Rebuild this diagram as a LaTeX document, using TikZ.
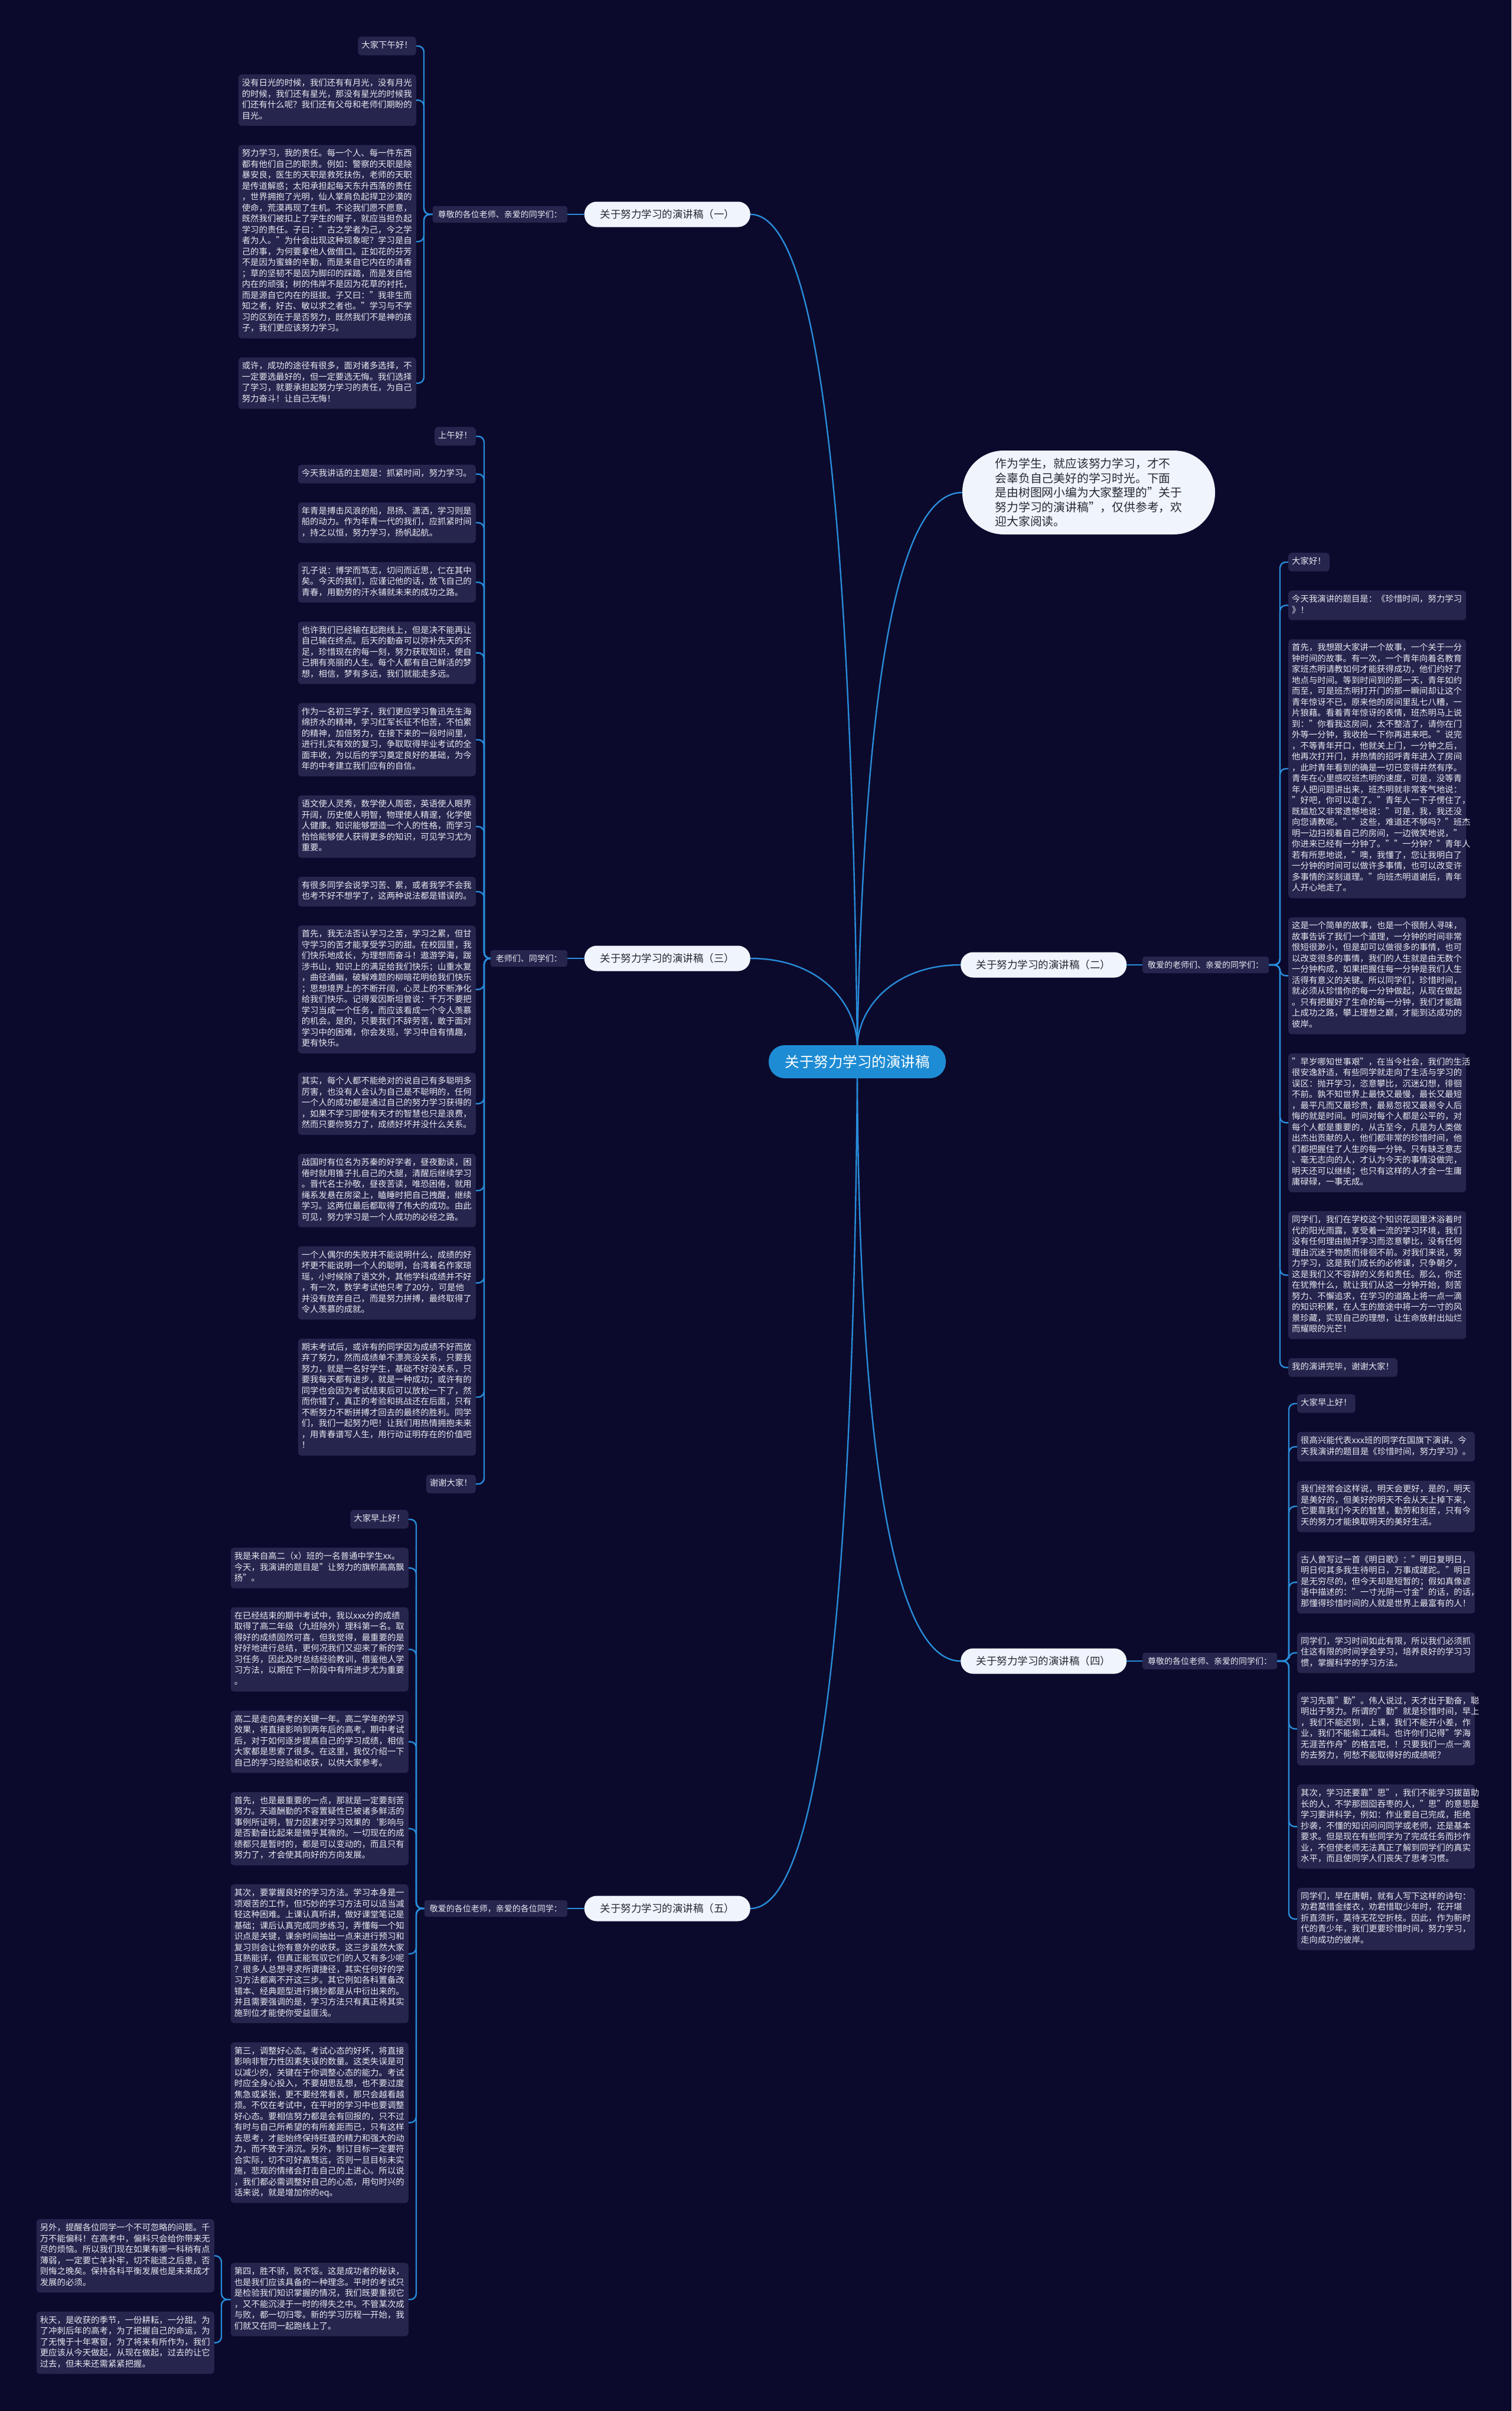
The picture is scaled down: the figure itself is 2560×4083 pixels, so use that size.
\documentclass[tikz,border=0pt]{standalone}
\usepackage{fontspec}
\setmainfont{Noto Sans CJK SC}
\definecolor{bgc}{RGB}{12,10,44}
\definecolor{leaffill}{RGB}{38,37,78}
\definecolor{leaftext}{RGB}{232,232,240}
\definecolor{linec}{RGB}{40,140,218}
\definecolor{brfill}{RGB}{240,244,252}
\definecolor{brtext}{RGB}{40,40,50}
\definecolor{ctrfill}{RGB}{30,140,212}
\begin{document}
\begin{tikzpicture}[x=1pt,y=-1pt,
 leaf/.style={fill=leaffill,text=leaftext,rounded corners=6pt,inner xsep=6pt,inner ysep=6.5pt,font=\fontsize{14.4}{18.5}\selectfont,text width=289pt,align=left,execute at begin node=\strut,execute at end node=\strut},
 leafs/.style={fill=leaffill,text=leaftext,rounded corners=6pt,inner xsep=6pt,inner ysep=6.5pt,font=\fontsize{14.4}{18.5}\selectfont,execute at begin node=\strut,execute at end node=\strut},
 lab/.style={fill=leaffill,text=leaftext,rounded corners=4pt,inner xsep=9pt,inner ysep=0pt,minimum height=28pt,font=\fontsize{14}{14}\selectfont},
 br/.style={fill=brfill,text=brtext,rounded corners=21pt,minimum width=281pt,minimum height=43pt,inner sep=0pt,font=\fontsize{17.5}{17.5}\selectfont},
 ctr/.style={fill=ctrfill,text=white,rounded corners=27pt,minimum width=300pt,minimum height=56pt,inner sep=0pt,font=\fontsize{24.5}{24.5}\selectfont},
 intro/.style={fill=brfill,text=brtext,rounded corners=70pt,minimum width=428pt,minimum height=142pt,align=left,font=\fontsize{19.8}{24.5}\selectfont},
 conn/.style={draw=linec,line width=2.4pt},
 brk/.style={draw=linec,line width=2.4pt,rounded corners=10pt}
]
\fill[bgc] (0,0) rectangle (2560,4083);
\useasboundingbox (0,0) rectangle (2560,4083);

% centre, intro, branches
\node[ctr] (ctr) at (1452,1798) {关于努力学习的演讲稿};
\node[intro] (intro) at (1844,834) {作为学生，就应该努力学习，才不\\会辜负自己美好的学习时光。下面\\是由树图网小编为大家整理的"关于\\努力学习的演讲稿"，仅供参考，欢\\迎大家阅读。};
\node[br,anchor=east] (br1) at (1271,363) {关于努力学习的演讲稿（一）};
\node[br,anchor=east] (br3) at (1271,1623) {关于努力学习的演讲稿（三）};
\node[br,anchor=east] (br5) at (1271,3232) {关于努力学习的演讲稿（五）};
\node[br,anchor=west] (br2) at (1627,1634) {关于努力学习的演讲稿（二）};
\node[br,anchor=west] (br4) at (1627,2813) {关于努力学习的演讲稿（四）};

\node[lab,anchor=east] (l1) at (961,363) {尊敬的各位老师、亲爱的同学们：};
\node[lab,anchor=east] (l3) at (961,1623) {老师们、同学们：};
\node[lab,anchor=east] (l5) at (961,3232) {敬爱的各位老师，亲爱的各位同学：};
\node[lab,anchor=west] (l2) at (1935,1634) {敬爱的老师们、亲爱的同学们：};
\node[lab,anchor=west] (l4) at (1935,2813) {尊敬的各位老师、亲爱的同学们：};

% ---------- branch 1 ----------
\node[leafs,anchor=north east] (b1a) at (705,62) {大家下午好！};
\node[leaf,anchor=north east] (b1b) at ([yshift=-32pt]b1a.south east) {没有日光的时候，我们还有有月光，没有月光\\的时候，我们还有星光，那没有星光的时候我\\们还有什么呢？我们还有父母和老师们期盼的\\目光。};
\node[leaf,anchor=north east] (b1c) at ([yshift=-32pt]b1b.south east) {努力学习，我的责任。每一个人、每一件东西\\都有他们自己的职责。例如：警察的天职是除\\暴安良，医生的天职是救死扶伤，老师的天职\\是传道解惑；太阳承担起每天东升西落的责任\\，世界拥抱了光明，仙人掌肩负起捍卫沙漠的\\使命，荒漠再现了生机。不论我们愿不愿意，\\既然我们被扣上了学生的帽子，就应当担负起\\学习的责任。子曰："古之学者为己，今之学\\者为人。"为什会出现这种现象呢？学习是自\\己的事，为何要拿他人做借口。正如花的芬芳\\不是因为蜜蜂的辛勤，而是来自它内在的清香\\；草的坚韧不是因为脚印的踩踏，而是发自他\\内在的顽强；树的伟岸不是因为花草的衬托，\\而是源自它内在的挺拔。子又曰："我非生而\\知之者，好古、敏以求之者也。"学习与不学\\习的区别在于是否努力，既然我们不是神的孩\\子，我们更应该努力学习。};
\node[leaf,anchor=north east] (b1d) at ([yshift=-32pt]b1c.south east) {或许，成功的途径有很多，面对诸多选择，不\\一定要选最好的，但一定要选无悔。我们选择\\了学习，就要承担起努力学习的责任，为自己\\努力奋斗！让自己无悔！};

% ---------- branch 3 ----------
\node[leafs,anchor=north east] (b3a) at (806,723) {上午好！};
\node[leaf,anchor=north east] (b3b) at ([yshift=-32pt]b3a.south east) {今天我讲话的主题是：抓紧时间，努力学习。};
\node[leaf,anchor=north east] (b3c) at ([yshift=-32pt]b3b.south east) {年青是搏击风浪的船，昂扬、潇洒，学习则是\\船的动力。作为年青一代的我们，应抓紧时间\\，持之以恒，努力学习，扬帆起航。};
\node[leaf,anchor=north east] (b3d) at ([yshift=-32pt]b3c.south east) {孔子说：博学而笃志，切问而近思，仁在其中\\矣。今天的我们，应谨记他的话，放飞自己的\\青春，用勤劳的汗水铺就未来的成功之路。};
\node[leaf,anchor=north east] (b3e) at ([yshift=-32pt]b3d.south east) {也许我们已经输在起跑线上，但是决不能再让\\自己输在终点。后天的勤奋可以弥补先天的不\\足，珍惜现在的每一刻，努力获取知识，使自\\己拥有亮丽的人生。每个人都有自己鲜活的梦\\想，相信，梦有多远，我们就能走多远。};
\node[leaf,anchor=north east] (b3f) at ([yshift=-32pt]b3e.south east) {作为一名初三学子，我们更应学习鲁迅先生海\\绵挤水的精神，学习红军长征不怕苦，不怕累\\的精神，加倍努力，在接下来的一段时间里，\\进行扎实有效的复习，争取取得毕业考试的全\\面丰收，为以后的学习奠定良好的基础，为今\\年的中考建立我们应有的自信。};
\node[leaf,anchor=north east] (b3g) at ([yshift=-32pt]b3f.south east) {语文使人灵秀，数学使人周密，英语使人眼界\\开阔，历史使人明智，物理使人精邃，化学使\\人健康。知识能够塑造一个人的性格，而学习\\恰恰能够使人获得更多的知识，可见学习尤为\\重要。};
\node[leaf,anchor=north east] (b3h) at ([yshift=-32pt]b3g.south east) {有很多同学会说学习苦、累，或者我学不会我\\也考不好不想学了，这两种说法都是错误的。};
\node[leaf,anchor=north east] (b3i) at ([yshift=-32pt]b3h.south east) {首先，我无法否认学习之苦，学习之累，但甘\\守学习的苦才能享受学习的甜。在校园里，我\\们快乐地成长，为理想而奋斗！遨游学海，跋\\涉书山，知识上的满足给我们快乐；山重水复\\，曲径通幽，破解难题的柳暗花明给我们快乐\\；思想境界上的不断开阔，心灵上的不断净化\\给我们快乐。记得爱因斯坦曾说：千万不要把\\学习当成一个任务，而应该看成一个令人羡慕\\的机会。是的，只要我们不辞劳苦，敢于面对\\学习中的困难，你会发现，学习中自有情趣，\\更有快乐。};
\node[leaf,anchor=north east] (b3j) at ([yshift=-32pt]b3i.south east) {其实，每个人都不能绝对的说自己有多聪明多\\厉害，也没有人会认为自己是不聪明的，任何\\一个人的成功都是通过自己的努力学习获得的\\，如果不学习即使有天才的智慧也只是浪费，\\然而只要你努力了，成绩好坏并没什么关系。};
\node[leaf,anchor=north east] (b3k) at ([yshift=-32pt]b3j.south east) {战国时有位名为苏秦的好学者，昼夜勤读，困\\倦时就用锥子扎自己的大腿，清醒后继续学习\\。晋代名士孙敬，昼夜苦读，唯恐困倦，就用\\绳系发悬在房梁上，瞌睡时把自己拽醒，继续\\学习。这两位最后都取得了伟大的成功。由此\\可见，努力学习是一个人成功的必经之路。};
\node[leaf,anchor=north east] (b3l) at ([yshift=-32pt]b3k.south east) {一个人偶尔的失败并不能说明什么，成绩的好\\坏更不能说明一个人的聪明，台湾着名作家琼\\瑶，小时候除了语文外，其他学科成绩并不好\\，有一次，数学考试他只考了20分，可是他\\并没有放弃自己，而是努力拼搏，最终取得了\\令人羡慕的成就。};
\node[leaf,anchor=north east] (b3m) at ([yshift=-32pt]b3l.south east) {期末考试后，或许有的同学因为成绩不好而放\\弃了努力，然而成绩单不漂亮没关系，只要我\\努力，就是一名好学生，基础不好没关系，只\\要我每天都有进步，就是一种成功；或许有的\\同学也会因为考试结束后可以放松一下了，然\\而你错了，真正的考验和挑战还在后面，只有\\不断努力不断拼搏才回去的最终的胜利。同学\\们，我们一起努力吧！让我们用热情拥抱未来\\，用青春谱写人生，用行动证明存在的价值吧\\！};
\node[leafs,anchor=north east] (b3n) at ([yshift=-32pt]b3m.south east) {谢谢大家！};

% ---------- branch 5 ----------
\node[leafs,anchor=north east] (b5a) at (692,2557) {大家早上好！};
\node[leaf,anchor=north east] (b5b) at ([yshift=-32pt]b5a.south east) {我是来自高二（x）班的一名普通中学生xx。\\今天，我演讲的题目是"让努力的旗帜高高飘\\扬"。};
\node[leaf,anchor=north east] (b5c) at ([yshift=-32pt]b5b.south east) {在已经结束的期中考试中，我以xxx分的成绩\\取得了高二年级（九班除外）理科第一名。取\\得好的成绩固然可喜，但我觉得，最重要的是\\好好地进行总结，更何况我们又迎来了新的学\\习任务，因此及时总结经验教训，借鉴他人学\\习方法，以期在下一阶段中有所进步尤为重要\\。};
\node[leaf,anchor=north east] (b5d) at ([yshift=-32pt]b5c.south east) {高二是走向高考的关键一年。高二学年的学习\\效果，将直接影响到两年后的高考。期中考试\\后，对于如何逐步提高自己的学习成绩，相信\\大家都是思索了很多。在这里，我仅介绍一下\\自己的学习经验和收获，以供大家参考。};
\node[leaf,anchor=north east] (b5e) at ([yshift=-32pt]b5d.south east) {首先，也是最重要的一点，那就是一定要刻苦\\努力。天道酬勤的不容置疑性已被诸多鲜活的\\事例所证明，智力因素对学习效果的`影响与\\是否勤奋比起来是微乎其微的。一切现在的成\\绩都只是暂时的，都是可以变动的，而且只有\\努力了，才会使其向好的方向发展。};
\node[leaf,anchor=north east] (b5f) at ([yshift=-32pt]b5e.south east) {其次，要掌握良好的学习方法。学习本身是一\\项艰苦的工作，但巧妙的学习方法可以适当减\\轻这种困难。上课认真听讲，做好课堂笔记是\\基础；课后认真完成同步练习，弄懂每一个知\\识点是关键，课余时间抽出一点来进行预习和\\复习则会让你有意外的收获。这三步虽然大家\\耳熟能详，但真正能驾驭它们的人又有多少呢\\？很多人总想寻求所谓捷径，其实任何好的学\\习方法都离不开这三步。其它例如各科置备改\\错本、经典题型进行摘抄都是从中衍出来的。\\并且需要强调的是，学习方法只有真正将其实\\施到位才能使你受益匪浅。};
\node[leaf,anchor=north east] (b5g) at ([yshift=-32pt]b5f.south east) {第三，调整好心态。考试心态的好坏，将直接\\影响非智力性因素失误的数量。这类失误是可\\以减少的，关键在于你调整心态的能力。考试\\时应全身心投入，不要胡思乱想，也不要过度\\焦急或紧张，更不要经常看表，那只会越看越\\烦。不仅在考试中，在平时的学习中也要调整\\好心态。要相信努力都是会有回报的，只不过\\有时与自己所希望的有所差距而已，只有这样\\去思考，才能始终保持旺盛的精力和强大的动\\力，而不致于消沉。另外，制订目标一定要符\\合实际，切不可好高骛远，否则一旦目标未实\\施，悲观的情绪会打击自己的上进心。所以说\\，我们都必需调整好自己的心态，用句时兴的\\话来说，就是增加你的eq。};
\node[leaf,anchor=north east] (b5h) at (692,3832) {第四，胜不骄，败不馁。这是成功者的秘诀，\\也是我们应该具备的一种理念。平时的考试只\\是检验我们知识掌握的情况，我们既要重视它\\，又不能沉浸于一时的得失之中。不管某次成\\与败，都一切归零。新的学习历程一开始，我\\们就又在同一起跑线上了。};
\node[leaf,anchor=north east] (b5i) at (363,3758) {另外，提醒各位同学一个不可忽略的问题。千\\万不能偏科！在高考中，偏科只会给你带来无\\尽的烦恼。所以我们现在如果有哪一科稍有点\\薄弱，一定要亡羊补牢，切不能遗之后患，否\\则悔之晚矣。保持各科平衡发展也是未来成才\\发展的必须。};
\node[leaf,anchor=north east] (b5j) at ([yshift=-32pt]b5i.south east) {秋天，是收获的季节，一份耕耘，一分甜。为\\了冲刺后年的高考，为了把握自己的命运，为\\了无愧于十年寒窗，为了将来有所作为，我们\\更应该从今天做起，从现在做起，过去的让它\\过去，但未来还需紧紧把握。};

% ---------- branch 2 ----------
\node[leafs,anchor=north west] (b2a) at (2182,936) {大家好！};
\node[leaf,anchor=north west] (b2b) at ([yshift=-32pt]b2a.south west) {今天我演讲的题目是：《珍惜时间，努力学习\\》！};
\node[leaf,anchor=north west] (b2c) at ([yshift=-32pt]b2b.south west) {首先，我想跟大家讲一个故事，一个关于一分\\钟时间的故事。有一次，一个青年向着名教育\\家班杰明请教如何才能获得成功，他们约好了\\地点与时间。等到时间到的那一天，青年如约\\而至，可是班杰明打开门的那一瞬间却让这个\\青年惊讶不已，原来他的房间里乱七八糟，一\\片狼藉。看着青年惊讶的表情，班杰明马上说\\到："你看我这房间，太不整洁了，请你在门\\外等一分钟，我收拾一下你再进来吧。"说完\\，不等青年开口，他就关上门，一分钟之后，\\他再次打开门，并热情的招呼青年进入了房间\\，此时青年看到的确是一切已变得井然有序。\\青年在心里感叹班杰明的速度，可是，没等青\\年人把问题讲出来，班杰明就非常客气地说：\\"好吧，你可以走了。"青年人一下子愣住了，\\既尴尬又非常遗憾地说："可是，我，我还没\\向您请教呢。""这些，难道还不够吗？"班杰\\明一边扫视着自己的房间，一边微笑地说，"\\你进来已经有一分钟了。""一分钟？"青年人\\若有所思地说，"噢，我懂了，您让我明白了\\一分钟的时间可以做许多事情，也可以改变许\\多事情的深刻道理。"向班杰明道谢后，青年\\人开心地走了。};
\node[leaf,anchor=north west] (b2d) at ([yshift=-32pt]b2c.south west) {这是一个简单的故事，也是一个很耐人寻味，\\故事告诉了我们一个道理，一分钟的时间非常\\恨短很渺小，但是却可以做很多的事情，也可\\以改变很多的事情，我们的人生就是由无数个\\一分钟构成，如果把握住每一分钟是我们人生\\活得有意义的关键。所以同学们，珍惜时间，\\就必须从珍惜你的每一分钟做起，从现在做起\\。只有把握好了生命的每一分钟，我们才能踏\\上成功之路，攀上理想之巅，才能到达成功的\\彼岸。};
\node[leaf,anchor=north west] (b2e) at ([yshift=-32pt]b2d.south west) {"早岁哪知世事艰"，在当今社会，我们的生活\\很安逸舒适，有些同学就走向了生活与学习的\\误区：抛开学习，恣意攀比，沉迷幻想，徘徊\\不前。孰不知世界上最快又最慢，最长又最短\\，最平凡而又最珍贵，最易忽视又最易令人后\\悔的就是时间。时间对每个人都是公平的，对\\每个人都是重要的，从古至今，凡是为人类做\\出杰出贡献的人，他们都非常的珍惜时间，他\\们都把握住了人生的每一分钟。只有缺乏意志\\、毫无志向的人，才认为今天的事情没做完，\\明天还可以继续；也只有这样的人才会一生庸\\庸碌碌，一事无成。};
\node[leaf,anchor=north west] (b2f) at ([yshift=-32pt]b2e.south west) {同学们，我们在学校这个知识花园里沐浴着时\\代的阳光雨露，享受着一流的学习环境，我们\\没有任何理由抛开学习而恣意攀比，没有任何\\理由沉迷于物质而徘徊不前。对我们来说，努\\力学习，这是我们成长的必修课，只争朝夕，\\这是我们义不容辞的义务和责任。那么，你还\\在犹豫什么，就让我们从这一分钟开始，刻苦\\努力、不懈追求，在学习的道路上将一点一滴\\的知识积累，在人生的旅途中将一方一寸的风\\景珍藏，实现自己的理想，让生命放射出灿烂\\而耀眼的光芒！};
\node[leafs,anchor=north west] (b2g) at ([yshift=-32pt]b2f.south west) {我的演讲完毕，谢谢大家！};

% ---------- branch 4 ----------
\node[leafs,anchor=north west] (b4a) at (2197,2361) {大家早上好！};
\node[leaf,anchor=north west] (b4b) at ([yshift=-32pt]b4a.south west) {很高兴能代表xxx班的同学在国旗下演讲。今\\天我演讲的题目是《珍惜时间，努力学习》。};
\node[leaf,anchor=north west] (b4c) at ([yshift=-32pt]b4b.south west) {我们经常会这样说，明天会更好，是的，明天\\是美好的，但美好的明天不会从天上掉下来，\\它要靠我们今天的智慧，勤劳和刻苦，只有今\\天的努力才能换取明天的美好生活。};
\node[leaf,anchor=north west] (b4d) at ([yshift=-32pt]b4c.south west) {古人曾写过一首《明日歌》："明日复明日，\\明日何其多我生待明日，万事成蹉跎。"明日\\是无穷尽的，但今天却是短暂的；假如真像谚\\语中描述的："一寸光阴一寸金"的话，的话，\\那懂得珍惜时间的人就是世界上最富有的人！};
\node[leaf,anchor=north west] (b4e) at ([yshift=-32pt]b4d.south west) {同学们，学习时间如此有限，所以我们必须抓\\住这有限的时间学会学习，培养良好的学习习\\惯，掌握科学的学习方法。};
\node[leaf,anchor=north west] (b4f) at ([yshift=-32pt]b4e.south west) {学习先靠"勤"。伟人说过，天才出于勤奋，聪\\明出于努力。所谓的"勤"就是珍惜时间，早上\\，我们不能迟到，上课，我们不能开小差，作\\业，我们不能偷工减料。也许你们记得"学海\\无涯苦作舟"的格言吧，！只要我们一点一滴\\的去努力，何愁不能取得好的成绩呢？};
\node[leaf,anchor=north west] (b4g) at ([yshift=-32pt]b4f.south west) {其次，学习还要靠"思"，我们不能学习拔苗助\\长的人，不学那囫囵吞枣的人，"思"的意思是\\学习要讲科学，例如：作业要自己完成，拒绝\\抄袭，不懂的知识问问同学或老师，还是基本\\要求。但是现在有些同学为了完成任务而抄作\\业，不但使老师无法真正了解到同学们的真实\\水平，而且使同学人们丧失了思考习惯。};
\node[leaf,anchor=north west] (b4h) at ([yshift=-32pt]b4g.south west) {同学们，早在唐朝，就有人写下这样的诗句：\\劝君莫惜金缕衣，劝君惜取少年时，花开堪\\折直须折，莫待无花空折枝。因此，作为新时\\代的青少年，我们更要珍惜时间，努力学习，\\走向成功的彼岸。};

% ---------- connectors ----------
\draw[conn] (ctr.north) .. controls (1440,800) and (1380,363) .. (br1.east);
\draw[conn] (ctr.north) .. controls (1465,1100) and (1530,834) .. (intro.west);
\draw[conn] (ctr.north) .. controls (1450,1700) and (1390,1623) .. (br3.east);
\draw[conn] (ctr.north) .. controls (1456,1700) and (1520,1634) .. (br2.west);
\draw[conn] (ctr.south) .. controls (1456,2506) and (1522,2813) .. (br4.west);
\draw[conn] (ctr.south) .. controls (1444,2796) and (1380,3232) .. (br5.east);

\draw[conn] (l1.east) -- (br1.west);
\draw[conn] (l3.east) -- (br3.west);
\draw[conn] (l5.east) -- (br5.west);
\draw[conn] (br2.east) -- (l2.west);
\draw[conn] (br4.east) -- (l4.west);

\foreach \n in {b1a,b1b,b1c,b1d} \draw[brk] (l1.west) -- (718,363) |- (\n.east);
\foreach \n in {b3a,b3b,b3c,b3d,b3e,b3f,b3g,b3h,b3i,b3j,b3k,b3l,b3m,b3n} \draw[brk] (l3.west) -- (820,1623) |- (\n.east);
\foreach \n in {b5a,b5b,b5c,b5d,b5e,b5f,b5g,b5h} \draw[brk] (l5.west) -- (705,3232) |- (\n.east);
\foreach \n in {b5i,b5j} \draw[brk] (b5h.west) -- (375,3894) |- (\n.east);
\foreach \n in {b2a,b2b,b2c,b2d,b2e,b2f,b2g} \draw[brk] (l2.east) -- (2168,1634) |- (\n.west);
\foreach \n in {b4a,b4b,b4c,b4d,b4e,b4f,b4g,b4h} \draw[brk] (l4.east) -- (2183,2813) |- (\n.west);
\end{tikzpicture}
\end{document}
